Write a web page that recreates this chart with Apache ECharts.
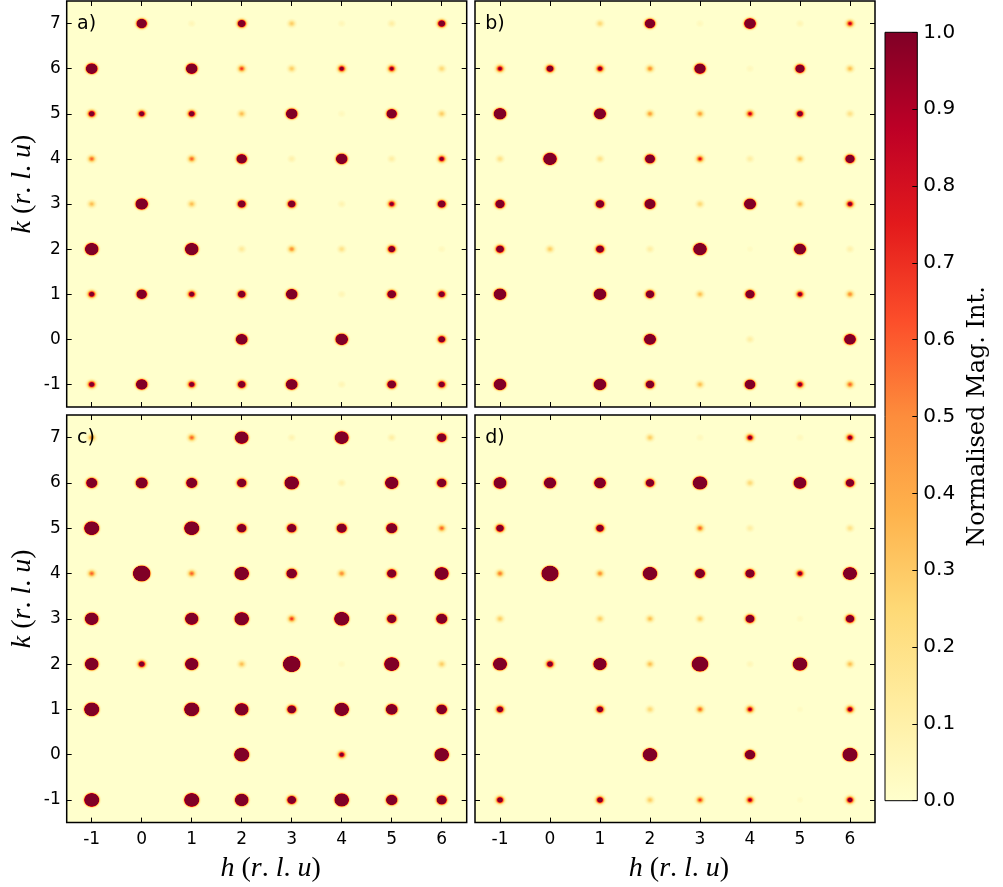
<!DOCTYPE html>
<html><head><meta charset="utf-8">
<script src="https://cdn.jsdelivr.net/npm/echarts@6/dist/echarts.min.js"></script>
<style>html,body{margin:0;padding:0;background:#fff}#c{width:1003px;height:887px}</style>
</head><body><div id="c"></div>
<script>
// ---- data ----
const hTicks = [-1, 0, 1, 2, 3, 4, 5, 6];
const kTicks = [-1, 0, 1, 2, 3, 4, 5, 6, 7];
const kRows = [7, 6, 5, 4, 3, 2, 1, 0, -1];   // row order of the intensity tables
const cbTicks = [0, 0.1, 0.2, 0.3, 0.4, 0.5, 0.6, 0.7, 0.8, 0.9, 1.0];
const panelLabels = ['a)', 'b)', 'c)', 'd)'];

// peak intensity of each reflection (normalised, >1 saturates the colour scale); rows k=7..-1, columns h=-1..6
const intensityA = [
  [0, 7.9, 0.06, 2.9, 0.3, 0.06, 0.12, 2.2],
  [15, 0, 13.7, 0.7, 0.3, 1.2, 1.1, 0.25],
  [1.6, 1.45, 1.6, 0.35, 13.7, 0.05, 7.9, 0.3],
  [0.6, 0, 0.6, 7.9, 0.1, 13.7, 0.12, 1.2],
  [0.35, 22.5, 0.35, 2.9, 2.6, 0.08, 1.2, 2.9],
  [42, 0, 42, 0.15, 0.5, 0.2, 2.1, 0.05],
  [1.45, 7.9, 1.45, 2.6, 13.7, 0.07, 4.0, 1.8],
  [0, 0, 0, 15, 0, 24, 0, 2.1],
  [1.45, 13.7, 1.45, 2.6, 15, 0.07, 4.0, 1.8]
];
const intensityB = [
  [0, 0, 0.25, 7.9, 0.05, 15, 0.07, 0.9],
  [1.1, 2.1, 1.2, 0.5, 12.4, 0.05, 4.9, 0.35],
  [24, 0, 17, 0.45, 0.45, 0.9, 1.6, 0.2],
  [0.2, 42, 0.2, 6.4, 0.8, 0.12, 0.35, 4.9],
  [4.9, 0, 3.5, 10.7, 0.25, 17, 0.35, 1.2],
  [2.9, 0.3, 2.9, 0.12, 42, 0.03, 17, 0.1],
  [24, 0, 24, 3.5, 0.35, 4.9, 1.2, 0.5],
  [0, 0, 0, 17, 0, 0.12, 0, 15],
  [24, 0, 24, 3.5, 0.35, 8.6, 1.2, 0.6]
];
const intensityC = [
  [0.5, 0, 0.6, 45, 0.08, 55, 0.12, 4.9],
  [10.7, 17, 10.7, 4.9, 78, 0.1, 37, 4.9],
  [115, 0, 115, 4.9, 4.9, 6.8, 10.7, 0.6],
  [0.6, 760, 0.6, 78, 8.6, 0.5, 4.9, 55],
  [45, 0, 37, 78, 0.7, 115, 4.9, 10.7],
  [45, 1.6, 37, 0.35, 760, 0.04, 115, 0.3],
  [115, 0, 115, 45, 4.0, 78, 15, 8.6],
  [0, 0, 0, 115, 0, 1.2, 0, 78],
  [115, 0, 115, 45, 4.0, 78, 12.4, 6.8]
];
const intensityD = [
  [0, 0, 0, 0.3, 0.05, 1.2, 0.05, 1.2],
  [27, 19, 15, 3.5, 78, 0.25, 27, 3.5],
  [2.6, 0, 2.6, 0, 0.6, 0.12, 0, 0.2],
  [0.55, 540, 0.5, 78, 6.4, 4.9, 1.2, 55],
  [0.3, 0, 0.3, 0.35, 0.3, 4.0, 0.04, 3.5],
  [55, 1.6, 37, 0.35, 350, 0.06, 78, 0.35],
  [1.8, 0, 1.8, 0.25, 0.6, 1.0, 0.03, 1.2],
  [0, 0, 0, 78, 0, 7.9, 0, 115],
  [1.6, 0, 1.6, 0.3, 0.7, 1.0, 0.03, 1.35]
];
const panels = [intensityA, intensityB, intensityC, intensityD];

// ---- styling ----
const YLORRD = ['#ffffcc', '#ffeda0', '#fed976', '#feb24c', '#fd8d3c', '#fc4e2a', '#e31a1c', '#bd0026', '#800026'];
const RGB = YLORRD.map(h => [parseInt(h.substr(1, 2), 16), parseInt(h.substr(3, 2), 16), parseInt(h.substr(5, 2), 16)]);
function cmap(v) {
  v = Math.max(0, Math.min(1, v));
  const p = v * (RGB.length - 1);
  const i = Math.min(RGB.length - 2, Math.floor(p));
  const f = p - i;
  const c = RGB[i].map((a, j) => Math.round(a + (RGB[i + 1][j] - a) * f));
  return 'rgb(' + c.join(',') + ')';
}
const SIGMA = 0.046;   // spot width in r.l.u.
const CUT = 0.01;
const LEVELS = [];
for (let v = 1; v > 0.02; v -= 0.025) LEVELS.push(+v.toFixed(3));
LEVELS.push(0.02, CUT);

function renderSpot(params, api) {
  const h = api.value(0), k = api.value(1), p = api.value(2);
  if (!(p > CUT)) return null;
  const c = api.coord([h, k]);
  const s = api.size([SIGMA, SIGMA]);
  const L = Math.sqrt(2 * Math.log(p / CUT));
  const rx = s[0] * L, ry = s[1] * L;
  const stops = [{ offset: 0, color: cmap(Math.min(p, 1)) }];
  for (const v of LEVELS) {
    if (v >= p) continue;
    stops.push({ offset: Math.min(1, Math.sqrt(2 * Math.log(p / v)) / L), color: cmap(v) });
  }
  return {
    type: 'circle', x: c[0], y: c[1], scaleX: rx / ry,
    shape: { cx: 0, cy: 0, r: ry },
    style: { fill: { type: 'radial', x: 0.5, y: 0.5, r: 0.5, colorStops: stops, global: false } }
  };
}

const FONT = 'DejaVu Sans';
const layout = [
  { left: 66.7, top: 1, width: 400, height: 406 },
  { left: 475, top: 1, width: 400, height: 406 },
  { left: 66.7, top: 415, width: 400, height: 407.6 },
  { left: 475, top: 415, width: 400, height: 407.6 }
];
const mathRich = {
  i: { fontFamily: 'Liberation Serif', fontStyle: 'italic', fontSize: 28, color: '#000' },
  n: { fontFamily: 'Liberation Serif', fontSize: 28, color: '#000' }
};
const hName = '{i|h}{n| (}{i|r}{n|. }{i|l}{n|. }{i|u}{n|)}';
const kName = '{i|k}{n| (}{i|r}{n|. }{i|l}{n|. }{i|u}{n|)}';

const grids = [], xAxes = [], yAxes = [], series = [], titles = [];
layout.forEach((g, i) => {
  grids.push(Object.assign({ show: true, backgroundColor: '#ffffcc', borderColor: '#000', borderWidth: 1.5, outerBoundsMode: 'none' }, g));
  const bottomRow = i >= 2, leftCol = i % 2 === 0;
  const tick = (vals) => ({ show: true, inside: true, length: 5, customValues: vals, lineStyle: { color: '#000', width: 1 } });
  ['bottom', 'top'].forEach(pos => {
    const main = pos === 'bottom';
    xAxes.push({
      type: 'value', gridIndex: i, position: pos, min: -1.5, max: 6.5,
      axisLine: { show: false, onZero: false }, splitLine: { show: false },
      axisTick: tick(hTicks),
      axisLabel: { show: main && bottomRow, customValues: hTicks, formatter: v => String(v), fontSize: 17, color: '#000', fontFamily: FONT, margin: 8 },
      name: main && bottomRow ? hName : '', nameLocation: 'middle', nameGap: 32,
      nameTextStyle: { rich: mathRich, padding: [0, 0, 0, 8] }
    });
  });
  ['left', 'right'].forEach(pos => {
    const main = pos === 'left';
    yAxes.push({
      type: 'value', gridIndex: i, position: pos, min: -1.5, max: 7.5,
      axisLine: { show: false, onZero: false }, splitLine: { show: false },
      axisTick: tick(kTicks),
      axisLabel: { show: main && leftCol, customValues: kTicks, formatter: v => String(v), fontSize: 17, color: '#000', fontFamily: FONT, margin: 6 },
      name: main && leftCol ? kName : '', nameLocation: 'middle', nameGap: 30, nameRotate: 90,
      nameTextStyle: { rich: mathRich, padding: [0, 0, 0, 40] }
    });
  });
  const data = [];
  panels[i].forEach((row, r) => row.forEach((p, c) => data.push([hTicks[c], kRows[r], p])));
  series.push({
    type: 'custom', coordinateSystem: 'cartesian2d', xAxisIndex: 2 * i, yAxisIndex: 2 * i,
    data, renderItem: renderSpot, clip: true, silent: true, encode: { x: 0, y: 1 }
  });
  titles.push({ text: panelLabels[i], left: g.left + 10.3, top: g.top + 14, padding: 0,
    textStyle: { fontSize: 19, fontWeight: 'normal', fontFamily: FONT, color: '#000' } });
});

// colour bar
const cbIndex = xAxes.length;
grids.push({ show: true, left: 885, top: 32.3, width: 32.3, height: 768.4, borderColor: '#000', borderWidth: 1, backgroundColor: 'transparent', outerBoundsMode: 'none', z: 3 });
xAxes.push({ type: 'category', gridIndex: 4, data: [''], show: false });
yAxes.push({
  type: 'value', gridIndex: 4, position: 'right', min: 0, max: 1, z: 5,
  axisLine: { show: false, onZero: false }, splitLine: { show: false },
  axisTick: { show: true, inside: true, length: 5, customValues: cbTicks, lineStyle: { color: '#000', width: 1 } },
  axisLabel: { customValues: cbTicks, formatter: v => v.toFixed(1), fontSize: 20, color: '#000', fontFamily: FONT, margin: 6 },
  name: 'Normalised Mag. Int.', nameLocation: 'middle', nameRotate: 90, nameGap: 48,
  nameTextStyle: { fontFamily: 'DejaVu Serif', fontSize: 24, color: '#000' }
});
series.push({
  type: 'bar', xAxisIndex: cbIndex, yAxisIndex: cbIndex, data: [cbTicks[cbTicks.length - 1]], barWidth: '100%', silent: true,
  itemStyle: { color: new echarts.graphic.LinearGradient(0, 1, 0, 0, YLORRD.map((c, j) => ({ offset: j / (YLORRD.length - 1), color: c }))) }
});

const chart = echarts.init(document.getElementById('c'), null, { renderer: 'canvas' });
chart.setOption({
  backgroundColor: '#fff', animation: false,
  title: titles, grid: grids, xAxis: xAxes, yAxis: yAxes, series
});
</script></body></html>
